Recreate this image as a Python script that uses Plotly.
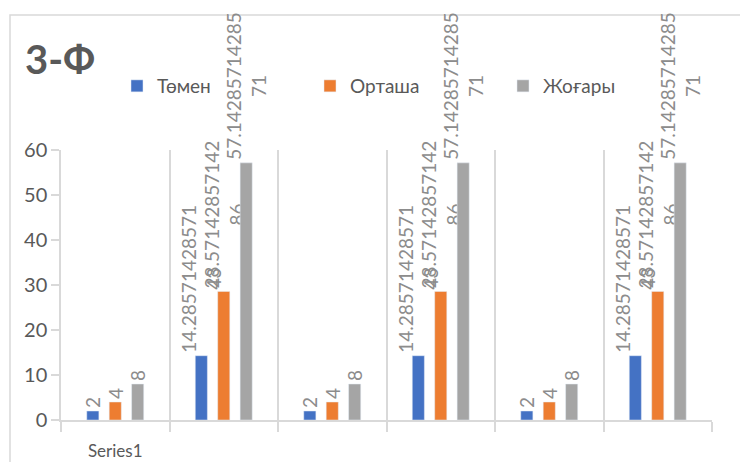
import plotly.graph_objects as go

categories = ["Series1", " ", "  ", "   ", "    ", "     "]
tomen = [2, 14.2857142857143, 2, 14.2857142857143, 2, 14.2857142857143]
ortasha = [4, 28.5714285714286, 4, 28.5714285714286, 4, 28.5714285714286]
zhogary = [8, 57.1428571428571, 8, 57.1428571428571, 8, 57.1428571428571]

series = [
    ("Төмен", tomen, "#4472C4"),
    ("Орташа", ortasha, "#ED7D31"),
    ("Жоғары", zhogary, "#A5A5A5"),
]


def wrap_label(v, width=14):
    # Excel-style 15 significant digits, wrapped like the data label box
    s = f"{v:.15g}"
    parts = [s[i:i + width] for i in range(0, len(s), width)]
    return "<br>".join(parts)


fig = go.Figure()
for name, vals, color in series:
    fig.add_trace(go.Bar(
        x=categories,
        y=vals,
        name=name,
        marker_color=color,
        text=[wrap_label(v) for v in vals],
        textposition="outside",
        textangle=-90,
        constraintext="none",
        cliponaxis=False,
        textfont=dict(size=19, color="#8c8c8c", family="Lato"),
        hoverinfo="skip",
    ))

# page body has an 8px margin, so the figure is drawn 8px smaller and shifted
fig.update_layout(
    width=740, height=454,
    margin=dict(l=53, r=36, t=142, b=42),
    paper_bgcolor="white",
    plot_bgcolor="white",
    font=dict(family="Lato", color="#595959"),
    barmode="group",
    bargap=0.38,
    bargroupgap=0.46,
    title=dict(text="<b>3-Ф</b>", x=17 / 740, xanchor="left",
               y=1 - 52 / 454, yanchor="middle",
               font=dict(size=40, color="#595959", family="Lato")),
    legend=dict(orientation="h", x=0.086, xanchor="left",
                y=1.237, yanchor="middle",
                font=dict(size=19, color="#595959", family="Lato"),
                entrywidth=148, entrywidthmode="pixels",
                bgcolor="rgba(0,0,0,0)"),
    showlegend=True,
)

fig.update_xaxes(
    type="category",
    tickson="boundaries",
    showgrid=True, gridcolor="#d9d9d9", gridwidth=1.5,
    showline=True, linecolor="#d9d9d9", linewidth=1.5,
    ticks="outside", ticklen=10, tickcolor="#d9d9d9", tickwidth=1.5,
    ticklabelstandoff=15,
    automargin=False,
    tickfont=dict(size=17, color="#595959", family="Lato"),
    zeroline=False,
)
fig.update_yaxes(
    range=[0, 60], dtick=10,
    showgrid=False,
    showline=True, linecolor="#d9d9d9", linewidth=1.5,
    ticks="outside", ticklen=8, tickcolor="#d9d9d9", tickwidth=1.5,
    tickfont=dict(size=20, color="#595959", family="Lato"),
    zeroline=False,
)

# outer chart border (runs off the right and bottom edges)
fig.add_shape(type="rect", xref="paper", yref="paper",
              x0=-51 / 651, x1=1 + 120 / 651, y0=-80 / 270, y1=1 + 135 / 270,
              line=dict(color="#d9d9d9", width=1.5), fillcolor="rgba(0,0,0,0)",
              layer="below")

fig.write_html("out.html")
